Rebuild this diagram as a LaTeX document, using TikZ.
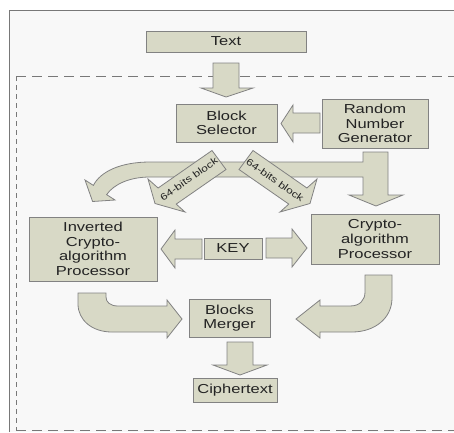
\documentclass[tikz,border=0pt]{standalone}
\usepackage{fontspec}
\setmainfont[FakeStretch=1.27]{Liberation Sans}
\definecolor{boxfill}{RGB}{216,217,198}
\definecolor{bordercol}{RGB}{130,130,130}
\definecolor{txtcol}{RGB}{35,35,35}
\definecolor{bgcol}{RGB}{248,248,248}
\definecolor{framecol}{RGB}{120,120,120}
\begin{document}
\begin{tikzpicture}[x=1pt,y=-1pt,
  box/.style={draw=bordercol, line width=1pt, fill=boxfill, text=txtcol, align=center, inner sep=0pt, font=\fontsize{13}{14.6}\selectfont},
  fat/.style={draw=bordercol, line width=0.8pt, fill=boxfill, line join=miter},
  lbl/.style={text=txtcol, inner sep=0pt, font=\fontsize{9.5}{11}\selectfont}]
\useasboundingbox (0,0) rectangle (454,432);
\fill[white] (0,0) rectangle (454,432);
\fill[bgcol] (9,10) rectangle (454,432);
\draw[framecol, line width=1pt] (9,432) -- (9,10) -- (454,10);
\draw[framecol, line width=0.9pt, dash pattern=on 10pt off 6pt] (16,76) -- (460,76);
\draw[framecol, line width=0.9pt, dash pattern=on 10pt off 6pt] (16,430) -- (460,430);
\draw[framecol, line width=0.9pt, dash pattern=on 5pt off 4pt] (16,76) -- (16,430);

% boxes
\node[box, minimum width=160pt, minimum height=21pt] (txt) at (226,41.5) {Text};
\node[box, minimum width=101pt, minimum height=38pt] (bs) at (226.5,123) {Block\\Selector};
\node[box, minimum width=106pt, minimum height=49pt] (rng) at (375,123.5) {Random\\Number\\Generator};
\node[box, minimum width=128pt, minimum height=64pt] (inv) at (93,249) {Inverted\\Crypto-\\algorithm\\Processor};
\node[box, minimum width=58pt, minimum height=21pt] (key) at (233,248.5) {KEY};
\node[box, minimum width=128pt, minimum height=50pt] (cry) at (375,239) {Crypto-\\algorithm\\Processor};
\node[box, minimum width=81pt, minimum height=38pt] (mrg) at (229.5,318) {Blocks\\Merger};
\node[box, minimum width=84pt, minimum height=24pt] (cip) at (235,390) {Ciphertext};

% straight block arrows
\draw[fat] (213,63) -- (239,63) -- (239,88) -- (253,88) -- (226,97) -- (201,88) -- (213,88) -- cycle;
\draw[fat] (320,113) -- (320,133) -- (293,133) -- (293,142) -- (281,123.5) -- (293,105) -- (293,113) -- cycle;
\draw[fat] (202,239) -- (202,259) -- (175,259) -- (175,268) -- (161,249) -- (175,230) -- (175,239) -- cycle;
\draw[fat] (266,238) -- (292,238) -- (292,229) -- (307,248) -- (292,267) -- (292,258) -- (266,258) -- cycle;
\draw[fat] (227,342) -- (253,342) -- (253,365) -- (267,365) -- (240,375) -- (213,365) -- (227,365) -- cycle;

% RNG split arrow (down to crypto, curved to inverted)
\draw[fat] (363,152) -- (388,152) -- (388,195) -- (403,195) -- (376,206) -- (349,195) -- (363,195) -- (363,177)
  -- (150,177) .. controls (130,177) and (114,184) .. (106.6,194.6) -- (115,200) -- (92.6,201.5) -- (85,180)
  -- (93.4,185.4) .. controls (100,172) and (120,162) .. (150,162) -- (363,162) -- cycle;

% diagonal arrows from block selector
\draw[fat] (212,150.5) -- (226,169.5) -- (176.2,204.1) -- (185,212) -- (155,203.5) -- (148,179) -- (158.1,188) -- cycle;
\draw[fat] (253,150.5) -- (239,169.5) -- (288.8,204.1) -- (280,212) -- (310,203.5) -- (317,179) -- (306.9,188) -- cycle;
\node[lbl, rotate=35] (l1) at (189,179) {64-bits block};
\node[lbl, rotate=-35] (l2) at (275,180) {64-bits block};

% curved arrows to merger
\draw[fat] (78,293) -- (106,293) -- (106,297) .. controls (106,302) and (110,306) .. (118,306) -- (167,306) -- (167,300)
  -- (182,319) -- (167,338) -- (167,332) -- (112,332) .. controls (92,332) and (78,320) .. (78,304) -- cycle;
\draw[fat] (392,275) -- (365,275) -- (365,292) .. controls (365,300) and (360,306) .. (350,306) -- (320,306) -- (320,300)
  -- (296,319) -- (320,338) -- (320,332) -- (352,332) .. controls (375,332) and (392,318) .. (392,298) -- cycle;
\end{tikzpicture}
\end{document}
